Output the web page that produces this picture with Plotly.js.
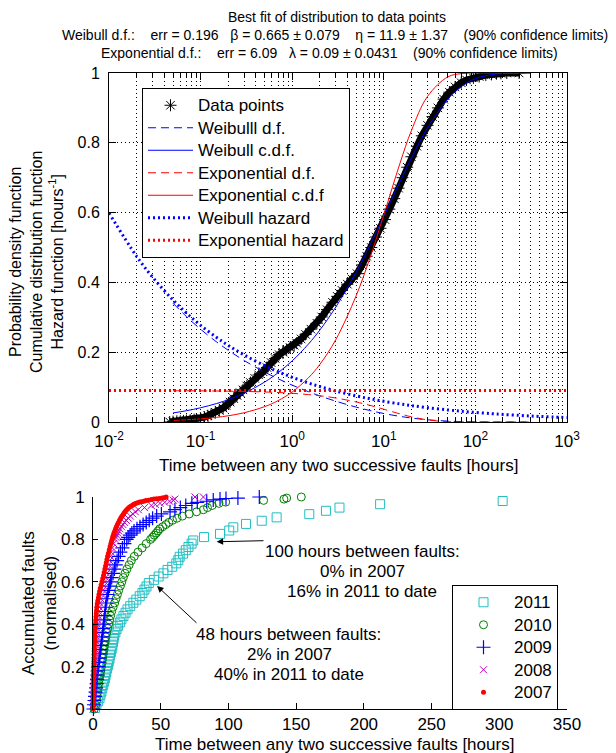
<!DOCTYPE html>
<html><head><meta charset="utf-8">
<script src="https://cdn.plot.ly/plotly-3.0.1.min.js"></script>
<style>html,body{margin:0;padding:0;background:#fff}#chart{width:616px;height:753px}</style>
</head><body><div id="chart"></div>
<script>
// ---------- Top plot: fitted distributions ----------
const tData = [0.046,0.05,0.055,0.06,0.065,0.07,0.077,0.085,0.09,0.1,0.11,0.12,0.13,0.145,0.16,0.176,0.19,0.21,0.23,0.25,0.27,0.29,0.32,0.35,0.39,0.43,0.48,0.53,0.59,0.65,0.72,0.79,0.87,0.95,1.05,1.12,1.25,1.4,1.6,1.86,2.1,2.4,2.75,3.1,3.5,4.0,4.5,5.1,5.8,6.5,7.3,8.2,9.2,10.3,11.5,13,14.5,16,18,20,23,26,30,34,39,45,52,60,70,80,95,110,130,150,170,190,220,300];
const fData = [0.000,0.001,0.002,0.002,0.003,0.004,0.005,0.007,0.008,0.011,0.014,0.018,0.022,0.028,0.033,0.040,0.047,0.057,0.067,0.076,0.084,0.092,0.103,0.113,0.125,0.135,0.144,0.156,0.170,0.182,0.193,0.200,0.207,0.213,0.220,0.226,0.238,0.251,0.266,0.283,0.301,0.322,0.343,0.360,0.377,0.395,0.41,0.425,0.45,0.475,0.50,0.53,0.555,0.58,0.61,0.64,0.67,0.70,0.73,0.76,0.79,0.82,0.85,0.875,0.90,0.925,0.945,0.96,0.972,0.980,0.986,0.990,0.994,0.996,0.998,0.999,1.0,1.0];

const tCurve = [0.05,0.07,0.1,0.15,0.2,0.3,0.5,0.7,1,1.5,2,3,5,7,10,15,20,30,50,70,100,150,200,300,400];
const weibullPdf = [0.3404,0.3023,0.2657,0.2291,0.2057,0.1759,0.1431,0.1240,0.1057,0.0869,0.0749,0.0595,0.0426,0.0331,0.0243,0.0161,0.0114,0.0064,0.0026,0.0012,0.00045,0.0001,0.00003,0,0];
const weibullCdf = [0.0259,0.0323,0.0408,0.0531,0.0639,0.0829,0.1144,0.1410,0.1752,0.2230,0.2632,0.3297,0.4298,0.5048,0.5897,0.6886,0.7564,0.8427,0.9256,0.9612,0.9837,0.9955,0.9985,0.9998,1.0];
const expPdf = [0.0896,0.0894,0.0892,0.0888,0.0884,0.0876,0.0860,0.0845,0.0823,0.0786,0.0752,0.0687,0.0574,0.0480,0.0366,0.0233,0.0149,0.0060,0.0010,0.00017,0.00001,0,0,0,0];
const expCdf = [0.0045,0.0063,0.0090,0.0134,0.0178,0.0266,0.0440,0.0611,0.0861,0.1264,0.1647,0.2366,0.3624,0.4674,0.5934,0.7408,0.8347,0.9328,0.9889,0.9982,0.9999,1,1,1,1];

const tHaz = [0.01,0.02,0.03,0.05,0.07,0.1,0.15,0.2,0.3,0.5,0.7,1,1.5,2,3,5,7,10,15,20,30,50,70,100,150,200,300,400,500,700,1000];
const weibullHaz = [0.5988,0.4749,0.4147,0.3494,0.3124,0.2770,0.2419,0.2197,0.1918,0.1616,0.1444,0.1281,0.1118,0.1016,0.0887,0.0747,0.0668,0.0592,0.0517,0.0470,0.0410,0.0345,0.0309,0.0274,0.0239,0.0217,0.0190,0.0172,0.0160,0.0143,0.0127];
const tExpHaz = [0.01,1000];
const expHaz = [0.09,0.09];

const logTickVals = [0.01,0.1,1,10,100,1000];
const logTickText = ['10<sup>-2</sup>','10<sup>-1</sup>','10<sup>0</sup>','10<sup>1</sup>','10<sup>2</sup>','10<sup>3</sup>'];
const logMinorVals = [0.02,0.03,0.04,0.05,0.06,0.07,0.08,0.09,0.2,0.3,0.4,0.5,0.6,0.7,0.8,0.9,2,3,4,5,6,7,8,9,20,30,40,50,60,70,80,90,200,300,400,500,600,700,800,900];

// ---------- Bottom plot: accumulated faults per year ----------
const years = ['2011','2010','2009','2008','2007'];
const x2011 = [1.5,2.5,3.8,4.8,5.5,6.2,6.8,7.5,8.2,8.8,9.3,9.8,10.4,11.0,11.6,12.2,12.6,13.2,13.8,14.3,14.8,15.2,15.6,16.5,17.4,18.4,19.8,21.0,22.5,24.0,25.5,27.5,29.8,32.0,34.5,36.5,38.0,39.5,41.2,45.0,48.5,52.0,55.0,58.5,61.5,63.0,64.0,66.5,68.5,70.5,72.8,74.0,82.0,93.8,100.6,103.6,113,124.6,135.6,159.7,172,182,212,302.5];
const y2011 = [0.005,0.020,0.036,0.051,0.067,0.082,0.098,0.113,0.129,0.144,0.160,0.175,0.191,0.206,0.222,0.237,0.253,0.268,0.284,0.299,0.315,0.330,0.346,0.361,0.377,0.392,0.408,0.423,0.439,0.454,0.470,0.485,0.501,0.516,0.532,0.547,0.563,0.578,0.594,0.609,0.625,0.640,0.656,0.671,0.687,0.702,0.718,0.733,0.749,0.764,0.780,0.795,0.811,0.826,0.842,0.857,0.873,0.888,0.904,0.919,0.935,0.950,0.966,0.981];
const x2010 = [1.0,1.9,2.6,3.0,3.4,3.8,4.2,4.7,5.3,5.8,6.3,6.8,7.2,7.7,8.1,8.5,9.0,9.5,10.1,10.8,11.5,12.2,13.0,13.8,14.8,16.0,17.0,18.0,19.0,20.2,21.3,22.4,23.6,25.0,26.7,28.3,30.5,33.2,36.3,39.3,42.5,44.0,45.3,46.7,48.0,49.3,51.5,53.8,56.0,58.7,62.0,66.0,71.0,76.5,81.5,84.5,88.0,93.0,98.0,126.0,141.0,143.0,153.8];
const y2010 = [0.00,0.02,0.04,0.06,0.08,0.10,0.12,0.14,0.16,0.18,0.20,0.22,0.24,0.26,0.28,0.30,0.32,0.34,0.36,0.38,0.40,0.42,0.44,0.46,0.48,0.50,0.52,0.54,0.56,0.58,0.60,0.62,0.64,0.66,0.68,0.70,0.72,0.74,0.76,0.78,0.80,0.81,0.82,0.83,0.84,0.85,0.86,0.87,0.88,0.89,0.90,0.91,0.92,0.93,0.94,0.95,0.96,0.97,0.976,0.984,0.99,0.995,1.0];
const x2009 = [0.3,0.7,1.1,1.5,1.9,2.3,2.7,3.0,3.3,3.6,3.95,4.3,4.7,5.1,5.5,5.9,6.3,6.7,7.0,7.4,7.8,8.1,8.5,8.9,9.3,9.7,10.2,10.8,11.5,12.2,13.0,13.8,14.8,15.8,16.8,17.8,18.9,20.2,21.7,23.2,24.9,26.0,27.3,28.7,30.3,32.5,34.7,37.0,39.3,41.5,44.0,47.0,50.5,56.9,60.5,64.5,68.5,73.0,77.0,84.0,88.8,93.8,98.2,107,122.8];
const y2009 = [0.00,0.02,0.04,0.06,0.08,0.10,0.12,0.14,0.16,0.18,0.20,0.22,0.24,0.26,0.28,0.30,0.32,0.34,0.36,0.38,0.40,0.42,0.44,0.46,0.48,0.50,0.52,0.54,0.56,0.58,0.60,0.62,0.64,0.66,0.68,0.70,0.72,0.74,0.76,0.78,0.80,0.81,0.82,0.83,0.84,0.85,0.86,0.87,0.88,0.89,0.90,0.91,0.92,0.93,0.94,0.95,0.96,0.97,0.975,0.98,0.986,0.990,0.993,0.995,1.0];
const x2008 = [0.1,0.2,0.35,0.45,0.6,0.7,0.85,1.0,1.1,1.25,1.4,1.55,1.7,1.85,2.0,2.2,2.4,2.6,2.8,3.0,3.2,3.5,3.8,4.2,4.6,5.0,5.7,6.6,7.3,8.0,8.7,9.4,10.1,10.8,11.5,12.2,12.8,13.5,14.3,15.2,16.2,16.9,17.6,18.3,19.0,19.9,21.0,22.1,23.3,24.6,26.0,27.6,29.4,31.3,33.5,38.0,43.0,46.0,49.5,53.0,56.5,59.3,60.5,75.3,81.5];
const y2008 = [0.00,0.02,0.04,0.06,0.08,0.10,0.12,0.14,0.16,0.18,0.20,0.22,0.24,0.26,0.28,0.30,0.32,0.34,0.36,0.38,0.40,0.42,0.44,0.46,0.48,0.50,0.52,0.54,0.56,0.58,0.60,0.62,0.64,0.66,0.68,0.70,0.72,0.74,0.76,0.78,0.80,0.81,0.82,0.83,0.84,0.85,0.86,0.87,0.88,0.89,0.90,0.91,0.92,0.93,0.94,0.95,0.96,0.965,0.97,0.975,0.98,0.985,0.99,1.0,1.0];
const x2007 = [0.05,0.1,0.15,0.2,0.25,0.3,0.35,0.4,0.45,0.5,0.55,0.6,0.65,0.7,0.75,0.8,0.85,0.9,0.95,1.0,1.1,1.2,1.3,1.4,1.5,1.6,1.75,1.9,2.05,2.2,2.4,2.6,2.8,3.1,3.5,4.0,4.4,4.9,5.4,6.0,6.6,7.2,7.8,8.3,8.8,9.3,9.8,10.3,10.8,11.4,12.0,12.6,13.2,13.7,14.1,14.5,15.0,15.5,16.1,16.7,17.3,18.0,18.8,19.6,20.4,21.2,22.0,22.8,23.6,24.6,25.6,26.6,27.6,28.6,29.6,30.6,31.8,33.0,34.5,36.0,37.5,39.0,41.0,43.0,45.0,47.0,49.0,51.0,52.5,54.0];
const y2007 = [0.00,0.015,0.03,0.045,0.06,0.075,0.09,0.105,0.12,0.135,0.15,0.165,0.18,0.195,0.21,0.225,0.24,0.255,0.27,0.285,0.30,0.315,0.33,0.345,0.36,0.375,0.39,0.405,0.42,0.435,0.45,0.465,0.48,0.495,0.51,0.525,0.54,0.555,0.57,0.585,0.60,0.615,0.63,0.645,0.66,0.675,0.69,0.705,0.72,0.735,0.75,0.765,0.78,0.79,0.80,0.81,0.82,0.83,0.84,0.85,0.86,0.87,0.88,0.89,0.90,0.908,0.915,0.923,0.93,0.938,0.945,0.950,0.955,0.959,0.963,0.967,0.970,0.973,0.976,0.978,0.980,0.983,0.985,0.988,0.990,0.992,0.993,0.995,0.996,1.0];

const W = 616, H = 753;
const px = v => v / W, py = v => 1 - v / H;
const FONT = 'Liberation Sans, Arial, sans-serif';
const BLUE = '#0000ff', RED = '#ff0000';
const big = s => '<span style="font-size:17px">' + s + '</span>';

const traces = [
  {x: tData, y: fData, mode: 'lines', line: {color: '#000', width: 7}, showlegend: false, hoverinfo: 'skip', xaxis: 'x', yaxis: 'y'},
  {x: tData, y: fData, mode: 'markers', name: big('Data points'), marker: {symbol: 'asterisk-open', size: 10, color: '#000', line: {color: '#000', width: 1}}, xaxis: 'x', yaxis: 'y', legend: 'legend'},
  {x: tCurve, y: weibullPdf, mode: 'lines', name: big('Weibulll d.f.'), line: {color: BLUE, width: 1, dash: '8px,5px', shape: 'spline'}, xaxis: 'x', yaxis: 'y', legend: 'legend'},
  {x: tCurve, y: weibullCdf, mode: 'lines', name: big('Weibull c.d.f.'), line: {color: BLUE, width: 1, shape: 'spline'}, xaxis: 'x', yaxis: 'y', legend: 'legend'},
  {x: tCurve, y: expPdf, mode: 'lines', name: big('Exponential d.f.'), line: {color: RED, width: 1, dash: '8px,5px', shape: 'spline'}, xaxis: 'x', yaxis: 'y', legend: 'legend'},
  {x: tCurve, y: expCdf, mode: 'lines', name: big('Exponential c.d.f'), line: {color: RED, width: 1, shape: 'spline'}, xaxis: 'x', yaxis: 'y', legend: 'legend'},
  {x: tHaz, y: weibullHaz, mode: 'lines', name: big('Weibull hazard'), line: {color: BLUE, width: 3, dash: '2px,3px', shape: 'spline'}, xaxis: 'x', yaxis: 'y', legend: 'legend'},
  {x: tExpHaz, y: expHaz, mode: 'lines', name: big('Exponential hazard'), line: {color: RED, width: 3, dash: '2px,3px'}, xaxis: 'x', yaxis: 'y', legend: 'legend'},

  {x: x2011, y: y2011, mode: 'markers', name: big(years[0]), cliponaxis: false, marker: {symbol: 'square-open', size: 9, color: '#1fbfc4', line: {width: 1}}, xaxis: 'x2', yaxis: 'y2', legend: 'legend2'},
  {x: x2010, y: y2010, mode: 'markers', name: big(years[1]), cliponaxis: false, marker: {symbol: 'circle-open', size: 8, color: '#008000', line: {width: 1}}, xaxis: 'x2', yaxis: 'y2', legend: 'legend2'},
  {x: x2009, y: y2009, mode: 'markers', name: big(years[2]), cliponaxis: false, marker: {symbol: 'cross-thin-open', size: 10, color: '#0000ff', line: {width: 1.2, color: '#0000ff'}}, xaxis: 'x2', yaxis: 'y2', legend: 'legend2'},
  {x: x2008, y: y2008, mode: 'markers', name: big(years[3]), cliponaxis: false, marker: {symbol: 'x-thin-open', size: 7, color: '#bf00bf', line: {width: 1, color: '#bf00bf'}}, xaxis: 'x2', yaxis: 'y2', legend: 'legend2'},
  {x: x2007, y: y2007, mode: 'markers', name: big(years[4]), cliponaxis: false, marker: {symbol: 'circle', size: 5, color: '#ff0000'}, xaxis: 'x2', yaxis: 'y2', legend: 'legend2'}
];

const sp = '\u00a0';
const sp3 = sp + sp + sp, sp4 = sp3 + sp;
const ann = [];
function txt(text, x, y, size, extra) {
  ann.push(Object.assign({text: text, xref: 'paper', yref: 'paper', x: px(x), y: py(y), xanchor: 'center', yanchor: 'middle', showarrow: false, font: {family: FONT, size: size, color: '#000'}}, extra || {}));
}
txt('Best fit of distribution to data points', 337, 17, 14);
txt('Weibull d.f.:' + sp4 + 'err = 0.196' + sp3 + 'β = 0.665 ± 0.079' + sp4 + 'η = 11.9 ± 1.37' + sp4 + '(90% confidence limits)', 335, 35, 14);
txt('Exponential d.f.:' + sp4 + 'err = 6.09' + sp3 + 'λ = 0.09 ± 0.0431' + sp4 + '(90% confidence limits)', 329, 53, 14);
txt('Probability density function<br>Cumulative distribution function<br>Hazard function [hours<sup>-1</sup>]', 36, 262, 16, {textangle: -90});
txt('Time between any two successive faults [hours]', 338, 465, 17);
txt('Accumulated faults<br>(normalised)', 39, 603, 17, {textangle: -90});
txt('Time between any two successive faults [hours]', 335, 744, 17);
txt('100 hours between faults:', 362, 551, 17);
txt('0% in 2007', 362, 571, 17);
txt('16% in 2011 to date', 362, 591, 17);
txt('48 hours between faults:', 288, 634, 17);
txt('2% in 2007', 289, 654, 17);
txt('40% in 2011 to date', 289, 674, 17);
ann.push({text: '', xref: 'x2', yref: 'y2', x: 91.3, y: 0.789, axref: 'x2', ayref: 'y2', ax: 127, ay: 0.794, showarrow: true, arrowhead: 2, arrowsize: 1.3, arrowwidth: 1, arrowcolor: '#000'});
ann.push({text: '', xref: 'x2', yref: 'y2', x: 47.3, y: 0.58, axref: 'x2', ayref: 'y2', ax: 77.5, ay: 0.40, showarrow: true, arrowhead: 2, arrowsize: 1.3, arrowwidth: 1, arrowcolor: '#000'});

const dotted = '1px,3px';
const layout = {
  width: W, height: H,
  margin: {l: 0, r: 0, t: 0, b: 0},
  paper_bgcolor: '#fff', plot_bgcolor: '#fff',
  font: {family: FONT, size: 17, color: '#000'},
  showlegend: true,
  xaxis: {
    type: 'log', range: [-2, 3], domain: [px(109), px(567)], anchor: 'y',
    tickmode: 'array', tickvals: logTickVals, ticktext: logTickText,
    ticks: 'inside', ticklen: 7, tickcolor: '#000', tickwidth: 1,
    showline: true, linecolor: '#000', linewidth: 1, mirror: 'ticks',
    showgrid: true, gridcolor: '#000', gridwidth: 1, griddash: dotted,
    minor: {tickmode: 'array', tickvals: logMinorVals, ticks: 'inside', ticklen: 4, tickcolor: '#000', showgrid: true, gridcolor: '#000', gridwidth: 1, griddash: dotted},
    tickfont: {size: 17}, ticklabelstandoff: 4, zeroline: false, fixedrange: true
  },
  yaxis: {
    range: [0, 1], domain: [py(422), py(73)], anchor: 'x',
    tickmode: 'array', tickvals: [0, 0.2, 0.4, 0.6, 0.8, 1], ticktext: ['0', '0.2', '0.4', '0.6', '0.8', '1'],
    ticks: 'inside', ticklen: 7, tickcolor: '#000', tickwidth: 1,
    showline: true, linecolor: '#000', linewidth: 1, mirror: 'ticks',
    showgrid: true, gridcolor: '#000', gridwidth: 1, griddash: dotted,
    tickfont: {size: 16}, ticklabelstandoff: 5, zeroline: false, fixedrange: true
  },
  xaxis2: {
    range: [0, 350], domain: [px(93), px(567)], anchor: 'y2',
    tickmode: 'array', tickvals: [0, 50, 100, 150, 200, 250, 300, 350],
    ticks: 'inside', ticklen: 6, tickcolor: '#000', tickwidth: 1,
    showline: true, linecolor: '#000', linewidth: 1, mirror: false,
    showgrid: false, zeroline: false, tickfont: {size: 17}, ticklabelstandoff: 0, fixedrange: true
  },
  yaxis2: {
    range: [0, 1], domain: [py(709), py(497)], anchor: 'x2',
    tickmode: 'array', tickvals: [0, 0.2, 0.4, 0.6, 0.8, 1], ticktext: ['0', '0.2', '0.4', '0.6', '0.8', '1'],
    ticks: 'inside', ticklen: 5, tickcolor: '#000', tickwidth: 1,
    showline: true, linecolor: '#000', linewidth: 1, mirror: false,
    showgrid: false, zeroline: false, tickfont: {size: 17}, ticklabelstandoff: 4, fixedrange: true
  },
  legend: {
    x: px(142), y: py(88), xanchor: 'left', yanchor: 'top',
    bgcolor: '#fff', bordercolor: '#000', borderwidth: 1,
    font: {family: FONT, size: 15, color: '#000'}, itemwidth: 45, tracegroupgap: 0
  },
  legend2: {
    x: px(452), y: py(585), xanchor: 'left', yanchor: 'top',
    bgcolor: '#fff', bordercolor: '#000', borderwidth: 1,
    font: {family: FONT, size: 15, color: '#000'}, itemwidth: 51, tracegroupgap: 0
  },
  annotations: ann
};

Plotly.newPlot('chart', traces, layout, {displayModeBar: false, staticPlot: true});
</script>
</body></html>
